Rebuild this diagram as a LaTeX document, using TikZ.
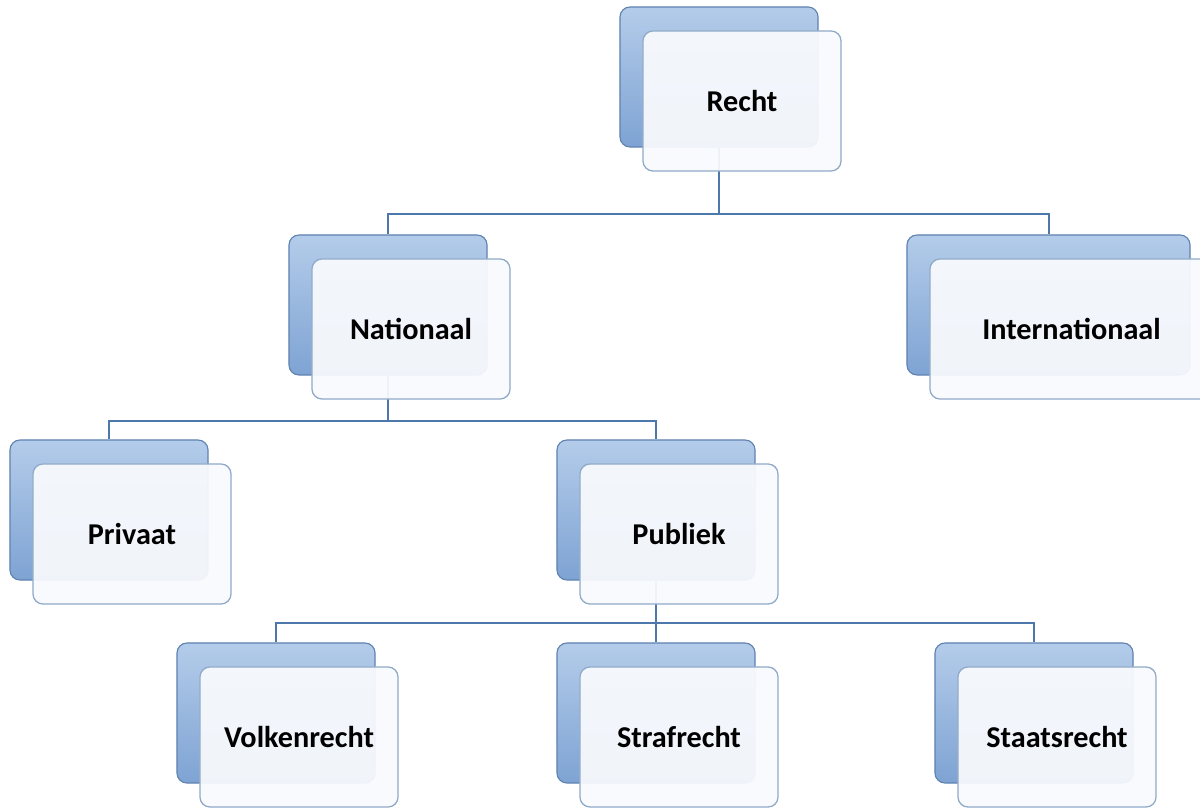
\documentclass[tikz,border=0pt]{standalone}
\usepackage{fontspec}
\setmainfont{Carlito}
\definecolor{backtop}{HTML}{B4CCEA}
\definecolor{backbot}{HTML}{7EA3D3}
\definecolor{backline}{HTML}{5F82B0}
\definecolor{frontfill}{HTML}{F8FAFD}
\definecolor{frontline}{HTML}{8FAAC8}
\definecolor{linkcol}{HTML}{4D78AC}
\begin{document}
\begin{tikzpicture}[x=0.025cm,y=-0.025cm,
  back/.style={draw=backline, line width=0.8pt, rounded corners=0.25cm, top color=backtop, bottom color=backbot, minimum width=4.95cm, minimum height=3.5cm, inner sep=0pt},
  front/.style={draw=frontline, line width=0.9pt, rounded corners=0.25cm, fill=frontfill, fill opacity=0.94, text opacity=1, minimum width=4.95cm, minimum height=3.5cm, inner sep=0pt, font=\bfseries\fontsize{21.5}{25}\selectfont},
  link/.style={draw=linkcol, line width=1.4pt}]
\clip (0,0) rectangle (1200,807);
% back boxes
\node[back] (rechtA) at (719,77) {};
\node[back] (natA) at (388,305) {};
\node[back, minimum width=7.075cm] (intlA) at (1048.5,305) {};
\node[back] (privA) at (109,510) {};
\node[back] (pubA) at (656,510) {};
\node[back] (volkA) at (276,713) {};
\node[back] (strafA) at (656,713) {};
\node[back] (staatA) at (1034,713) {};
% connectors
\draw[link] (rechtA.south) -- ++(0,66) -| (natA.north);
\draw[link] (rechtA.south) -- ++(0,66) -| (intlA.north);
\draw[link] (natA.south) -- ++(0,45) -| (privA.north);
\draw[link] (natA.south) -- ++(0,45) -| (pubA.north);
\draw[link] (pubA.south) -- ++(0,42) -| (volkA.north);
\draw[link] (pubA.south) -- ++(0,42) -| (strafA.north);
\draw[link] (pubA.south) -- ++(0,42) -| (staatA.north);
% front boxes
\node[front] (recht) at ([shift={(23,24)}]rechtA.center) {Recht};
\node[front] (nat) at ([shift={(23,24)}]natA.center) {Nationaal};
\node[front, minimum width=7.075cm] (intl) at ([shift={(23,24)}]intlA.center) {Internationaal};
\node[front] (priv) at ([shift={(23,24)}]privA.center) {Privaat};
\node[front] (pub) at ([shift={(23,24)}]pubA.center) {Publiek};
\node[front] (volk) at ([shift={(23,24)}]volkA.center) {Volkenrecht};
\node[front] (straf) at ([shift={(23,24)}]strafA.center) {Strafrecht};
\node[front] (staat) at ([shift={(23,24)}]staatA.center) {Staatsrecht};
\end{tikzpicture}
\end{document}
